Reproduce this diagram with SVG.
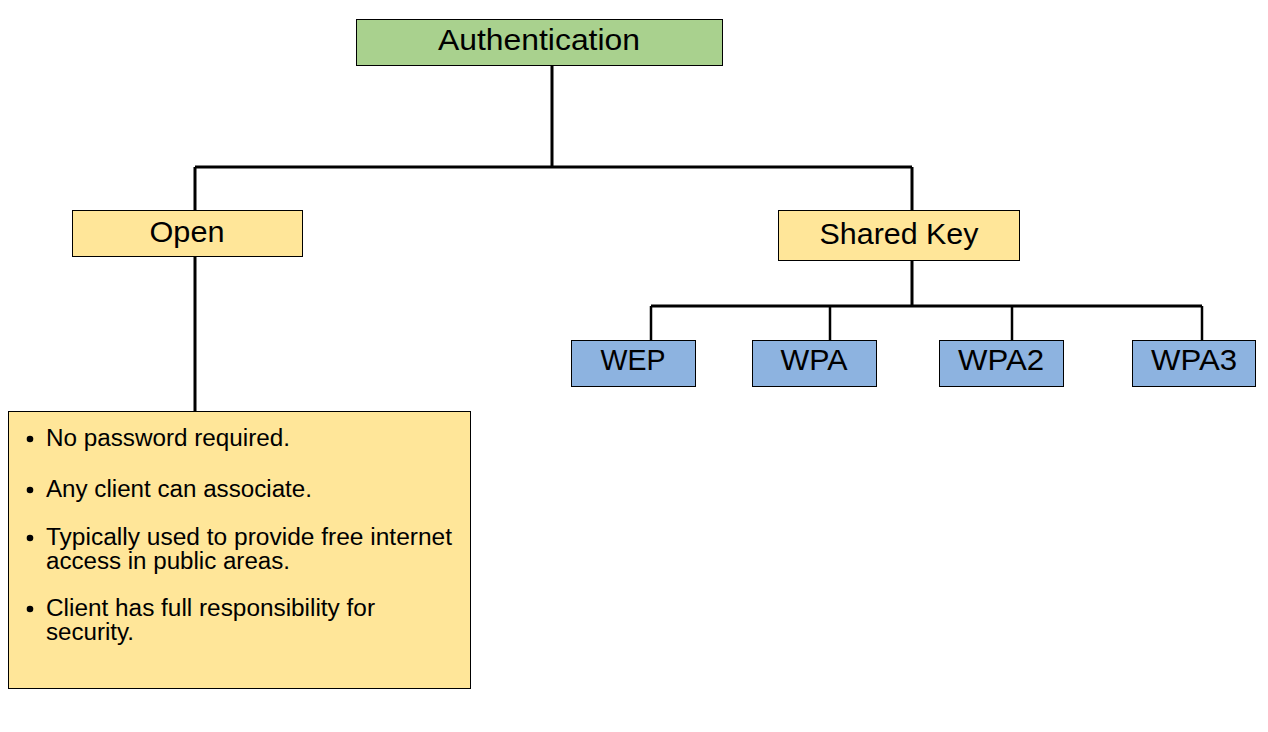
<svg xmlns="http://www.w3.org/2000/svg" width="1268" height="732" viewBox="0 0 1268 732">
<style>
.box{stroke:#000;stroke-width:1}
.g{fill:#A9D18E}
.y{fill:#FFE699}
.b{fill:#8DB3E0}
.lbl{font-family:"Liberation Sans",Arial,sans-serif;font-size:30px;fill:#000;text-anchor:middle}
.txt{font-family:"Liberation Sans",Arial,sans-serif;font-size:23px;fill:#000}
.c{stroke:#000;stroke-width:3;fill:none}
.c2{stroke:#000;stroke-width:2.5;fill:none}
</style>
<rect width="1268" height="732" fill="#fff"/>
<g id="connectors">
<path class="c" d="M552 65V167M195 167H912M195 167V210M912 167V210M195 256V411M912 260V306M651 306H1202"/>
<path class="c2" d="M651 306V340M830 306V340M1012 306V340M1202 306V340"/>
</g>
<g id="authentication">
<rect class="box g" x="356.5" y="19.5" width="366" height="46"/>
<text class="lbl" x="539" y="50" textLength="202" lengthAdjust="spacingAndGlyphs">Authentication</text>
</g>
<g id="open">
<rect class="box y" x="72.5" y="210.5" width="230" height="46"/>
<text class="lbl" x="187" y="242" textLength="75" lengthAdjust="spacingAndGlyphs">Open</text>
</g>
<g id="shared-key">
<rect class="box y" x="778.5" y="210.5" width="241" height="50"/>
<text class="lbl" x="899" y="244" textLength="159" lengthAdjust="spacingAndGlyphs">Shared Key</text>
</g>
<g id="wep">
<rect class="box b" x="571.5" y="340.5" width="124" height="46"/>
<text class="lbl" x="633" y="370" textLength="65" lengthAdjust="spacingAndGlyphs">WEP</text>
</g>
<g id="wpa">
<rect class="box b" x="752.5" y="340.5" width="124" height="46"/>
<text class="lbl" x="814" y="370" textLength="67" lengthAdjust="spacingAndGlyphs">WPA</text>
</g>
<g id="wpa2">
<rect class="box b" x="939.5" y="340.5" width="124" height="46"/>
<text class="lbl" x="1001" y="370" textLength="86" lengthAdjust="spacingAndGlyphs">WPA2</text>
</g>
<g id="wpa3">
<rect class="box b" x="1132.5" y="340.5" width="123" height="46"/>
<text class="lbl" x="1194" y="370" textLength="86" lengthAdjust="spacingAndGlyphs">WPA3</text>
</g>
<g id="open-details">
<rect class="box y" x="8.5" y="411.5" width="462" height="277"/>
<circle cx="30" cy="439" r="3.3"/>
<circle cx="30" cy="490" r="3.3"/>
<circle cx="30" cy="538" r="3.3"/>
<circle cx="30" cy="609" r="3.3"/>
<text class="txt" x="46" y="446" textLength="244" lengthAdjust="spacingAndGlyphs">No password required.</text>
<text class="txt" x="46" y="497" textLength="266" lengthAdjust="spacingAndGlyphs">Any client can associate.</text>
<text class="txt" x="46" y="545" textLength="406" lengthAdjust="spacingAndGlyphs">Typically used to provide free internet</text>
<text class="txt" x="46" y="569" textLength="244" lengthAdjust="spacingAndGlyphs">access in public areas.</text>
<text class="txt" x="46" y="616" textLength="329" lengthAdjust="spacingAndGlyphs">Client has full responsibility for</text>
<text class="txt" x="46" y="640" textLength="88" lengthAdjust="spacingAndGlyphs">security.</text>
</g>
</svg>
